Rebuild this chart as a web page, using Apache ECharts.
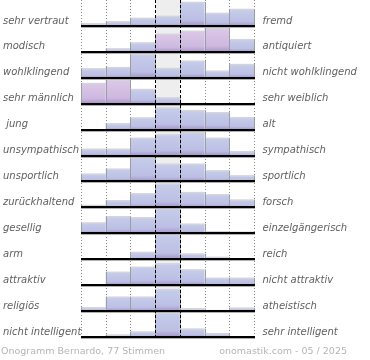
<!DOCTYPE html>
<html><head><meta charset="utf-8">
<script src="https://cdn.jsdelivr.net/npm/echarts@6/dist/echarts.min.js"></script>
<style>html,body{margin:0;padding:0;background:#fff}#c{width:370px;height:360px}</style>
</head><body><div id="c"></div>
<script>
const leftLabels = ['sehr vertraut','modisch','wohlklingend','sehr männlich',' jung','unsympathisch','unsportlich','zurückhaltend','gesellig','arm','attraktiv','religiös','nicht intelligent'];
const rightLabels = ['fremd','antiquiert','nicht wohlklingend','sehr weiblich','alt','sympathisch','sportlich','forsch','einzelgängerisch','reich','nicht attraktiv','atheistisch','sehr intelligent'];
// bar heights per row (7 columns), scale max = 26
const row01 = [2.5, 4.5, 8, 10, 24, 13, 17];
const row02 = [0, 3.3, 9.3, 18, 21, 24, 12.7];
const row03 = [9.3, 10.7, 23.7, 9.7, 17, 7, 13.7];
const row04 = [20.7, 24, 14.7, 6.3, 0.6, 0, 0];
const row05 = [0, 6.3, 12, 22, 19.5, 17.3, 12.3];
const row06 = [6.7, 6.7, 17.7, 21, 23.3, 17.7, 4.3];
const row07 = [7.7, 12.7, 24.3, 17.7, 17.7, 11, 6];
const row08 = [2.4, 7, 14, 23.7, 15.3, 13, 7.7];
const row09 = [10.7, 17, 16, 25, 9.5, 2, 1.5];
const row10 = [1, 1, 7.3, 25, 5.5, 2.3, 0];
const row11 = [0, 13.3, 18.3, 21.7, 15.7, 7.3, 7.3];
const row12 = [3.7, 14.3, 14.3, 22, 2.7, 1, 3.3];
const row13 = [0, 2.3, 5.3, 24.3, 8.3, 3.7, 0];
const pinkCells = [[1,3],[1,4],[1,5],[3,0],[3,1]]; // [row, col]
const footerLeft = 'Onogramm Bernardo, 77 Stimmen';
const footerRight = 'onomastik.com - 05 / 2025';
const rowMax = 26;
const nCols = 7;

const rows = [row01,row02,row03,row04,row05,row06,row07,row08,row09,row10,row11,row12,row13];
const barData = [];
rows.forEach((r, ri) => r.forEach((v, ci) => {
  const pink = pinkCells.some(p => p[0] === ri && p[1] === ci) ? 1 : 0;
  barData.push([ci, ri, v, pink]);
}));
const dottedLines = [0,1,2,5,6,7];
const dashedLines = [3,4];

const chart = echarts.init(document.getElementById('c'));
function vline(style){
  return function(params, api){
    const cs = params.coordSys;
    const x = Math.round(api.coord([api.value(0), 0])[0]) + 0.5;
    return {type:'line', shape:{x1:x, y1:cs.y, x2:x, y2:cs.y+cs.height}, style: style};
  };
}
const labelStyle = {fontFamily:'DejaVu Sans', fontStyle:'italic', fontSize:10, color:'#606060', verticalAlign:'top', lineHeight:16};
chart.setOption({
  animation:false,
  title:[
    {text: footerLeft, left: 1, top: 347, padding:0, textStyle:{fontFamily:'DejaVu Sans', fontSize:9.5, fontWeight:'normal', color:'#b5b5b5'}},
    {text: footerRight, right: 23, top: 347, padding:0, textStyle:{fontFamily:'DejaVu Sans', fontSize:9.5, fontWeight:'normal', color:'#b5b5b5'}}
  ],
  grid:{left:79, top:-1, width:175, height:338},
  xAxis:{type:'value', min:0, max:nCols, show:false},
  yAxis:[
    {type:'category', data:leftLabels, inverse:true, position:'left',
     axisLine:{show:false}, axisTick:{show:false}, splitLine:{show:false},
     axisLabel:Object.assign({align:'left', margin:78}, labelStyle)},
    {type:'category', data:rightLabels, inverse:true, position:'right',
     axisLine:{show:false}, axisTick:{show:false}, splitLine:{show:false},
     axisLabel:Object.assign({align:'left', margin:8.5}, labelStyle)}
  ],
  series:[
    {type:'custom', z:1, silent:true, data:[[3]],
     renderItem:function(params, api){
       const cs = params.coordSys;
       const x0 = api.coord([3,0])[0], x1 = api.coord([4,0])[0];
       return {type:'rect', shape:{x:x0, y:cs.y, width:x1-x0, height:cs.height}, style:{fill:'#eeeeee'}};
     }},
    {type:'custom', z:2, silent:true, data:dottedLines.map(v=>[v]),
     renderItem: vline({stroke:'#8a8a8a', lineWidth:1, lineDash:[1,2]})},
    {type:'custom', z:3, silent:true, data:barData,
     renderItem:function(params, api){
       const col = api.value(0), row = api.value(1), h = api.value(2), pink = api.value(3);
       if (h <= 0) return null;
       const c = api.coord([col, row]);
       const bh = api.size([0,1])[1];
       const bottom = c[1] + bh/2;
       const x0 = api.coord([col, row])[0];
       const x1 = api.coord([col+1, row])[0];
       const top = bottom - h / rowMax * bh;
       const stops = pink ?
         [{offset:0,color:'#ddc8e8'},{offset:0.75,color:'#cdb9df'},{offset:1,color:'#a993c8'}] :
         [{offset:0,color:'#c6cdeb'},{offset:0.75,color:'#bcbfe4'},{offset:1,color:'#a394c8'}];
       return {type:'group', children:[
         {type:'rect', shape:{x:x0, y:top, width:x1-x0, height:bottom-top},
          style:{fill:new echarts.graphic.LinearGradient(0,0,0,1,stops)}},
         {type:'line', shape:{x1:x0, y1:top+0.5, x2:x1, y2:top+0.5}, style:{stroke:'#d4d4dc', lineWidth:1.5}},
         {type:'line', shape:{x1:Math.round(x0)+0.5, y1:top, x2:Math.round(x0)+0.5, y2:bottom}, style:{stroke:'#9c9ca4', lineWidth:1}},
         {type:'line', shape:{x1:Math.round(x1)+0.5, y1:top, x2:Math.round(x1)+0.5, y2:bottom}, style:{stroke:'#9c9ca4', lineWidth:1}}
       ]};
     }},
    {type:'custom', z:4, silent:true, data:leftLabels.map((l,i)=>[0,i]),
     renderItem:function(params, api){
       const cs = params.coordSys;
       const c = api.coord([0, api.value(1)]);
       const bh = api.size([0,1])[1];
       const y = Math.round(c[1] + bh/2);
       return {type:'group', children:[
         {type:'line', shape:{x1:cs.x, y1:y+1.5, x2:cs.x+cs.width+1, y2:y+1.5}, style:{stroke:'#b0b0b0', lineWidth:1}},
         {type:'line', shape:{x1:cs.x, y1:y, x2:cs.x+cs.width+1, y2:y}, style:{stroke:'#000', lineWidth:2}}
       ]};
     }},
    {type:'custom', z:5, silent:true, data:dashedLines.map(v=>[v]),
     renderItem: vline({stroke:'#000', lineWidth:1, lineDash:[3,2]})}
  ]
});
</script></body></html>
